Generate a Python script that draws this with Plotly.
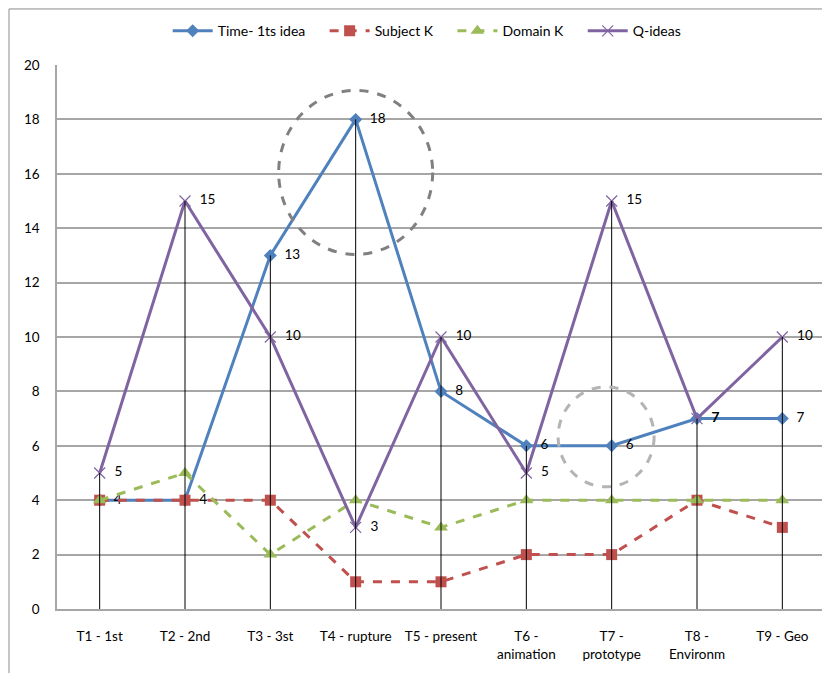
import plotly.graph_objects as go

categories = ["T1 - 1st", "T2 - 2nd", "T3 - 3st", "T4 - rupture", "T5 - present",
              "T6 -<br>animation", "T7 -<br>prototype", "T8 -<br>Environm", "T9 - Geo"]
time_1st_idea = [4, 4, 13, 18, 8, 6, 6, 7, 7]
subject_k = [4, 4, 4, 1, 1, 2, 2, 4, 3]
domain_k = [4, 5, 2, 4, 3, 4, 4, 4, 4]
q_ideas = [5, 15, 10, 3, 10, 5, 15, 7, 10]
y_ticks = [0, 2, 4, 6, 8, 10, 12, 14, 16, 18, 20]

xs = list(range(len(categories)))
FONT = "Lato, 'Liberation Sans', sans-serif"
PAD = "\u00a0\u00a0\u00a0\u00a0"

fig = go.Figure()

fig.add_trace(go.Scatter(
    x=xs, y=time_1st_idea, name="Time- 1ts idea" + PAD, mode="lines+markers+text",
    line=dict(color="#4F81BD", width=3),
    marker=dict(symbol="diamond", size=10, color="#4F81BD"),
    text=["  " + str(v) for v in time_1st_idea], textposition="middle right",
    textfont=dict(size=13.5, color="#000000", family=FONT),
))
fig.add_trace(go.Scatter(
    x=xs, y=subject_k, name="Subject K" + PAD, mode="lines+markers",
    line=dict(color="#C0504D", width=3, dash="dash"),
    marker=dict(symbol="square", size=11, color="#C0504D"),
))
fig.add_trace(go.Scatter(
    x=xs, y=domain_k, name="Domain K" + PAD, mode="lines+markers",
    line=dict(color="#9BBB59", width=3, dash="dash"),
    marker=dict(symbol="triangle-up", size=12, color="#9BBB59"),
))
fig.add_trace(go.Scatter(
    x=xs, y=q_ideas, name="Q-ideas", mode="lines+markers+text",
    line=dict(color="#8064A2", width=3),
    marker=dict(symbol="x-thin", size=11, color="#8064A2",
                line=dict(color="#8064A2", width=1.2)),
    text=["  " + str(v) for v in q_ideas], textposition="middle right",
    textfont=dict(size=13.5, color="#000000", family=FONT),
))

# drop lines from the highest value at each category down to the axis
series = [time_1st_idea, subject_k, domain_k, q_ideas]
dx, dy = [], []
for i in xs:
    top = max(s[i] for s in series)
    dx += [i, i, None]
    dy += [0, top, None]
fig.add_trace(go.Scatter(
    x=dx, y=dy, mode="lines", line=dict(color="#000000", width=1),
    showlegend=False, hoverinfo="skip",
))

shapes = [
    # outer chart frame
    dict(type="rect", xref="paper", yref="paper", x0=-0.0625, x1=1.03, y0=-0.14, y1=1.103,
         line=dict(color="#8C8C8C", width=1), fillcolor="rgba(0,0,0,0)", layer="below"),
    # highlight circles
    dict(type="circle", xref="x", yref="y", xsizemode="pixel", ysizemode="pixel",
         xanchor=3, yanchor=16.05, x0=-77, x1=77, y0=-82, y1=82,
         line=dict(color="#808080", width=3, dash="dash"), layer="above"),
    dict(type="circle", xref="x", yref="y", xsizemode="pixel", ysizemode="pixel",
         xanchor=5.935, yanchor=6.33, x0=-48, x1=48, y0=-50, y1=50,
         line=dict(color="#B4B4B4", width=3, dash="dash"), layer="above"),
]

# the page body adds an 8px offset, so the figure is sized/margined to compensate
fig.update_layout(
    width=822, height=665,
    margin=dict(l=49, r=5, t=57, b=64, autoexpand=False),
    paper_bgcolor="white", plot_bgcolor="white",
    font=dict(family=FONT, size=13, color="#000000"),
    showlegend=True,
    legend=dict(orientation="h", x=0.482, xanchor="center", y=1.062, yanchor="middle",
                font=dict(size=14, family=FONT), itemwidth=40, tracegroupgap=0),
    xaxis=dict(
        range=[-0.5, 8.5], tickmode="array", tickvals=xs, ticktext=categories,
        showgrid=False, zeroline=False, showline=True, linecolor="#A6A6A6", linewidth=1.5,
        ticks="", ticklabelstandoff=14, tickfont=dict(size=13.5, family=FONT),
        fixedrange=True, automargin=False,
    ),
    yaxis=dict(
        range=[0, 20], tickmode="array", tickvals=y_ticks,
        showgrid=True, gridcolor="#A6A6A6", gridwidth=1.5, zeroline=False,
        showline=True, linecolor="#A6A6A6", linewidth=1.5,
        ticks="", ticklabelstandoff=13, tickfont=dict(size=13.5, family=FONT),
        fixedrange=True, automargin=False,
    ),
    shapes=shapes,
    hovermode=False,
)

fig.write_html("out.html", config={"displayModeBar": False})
